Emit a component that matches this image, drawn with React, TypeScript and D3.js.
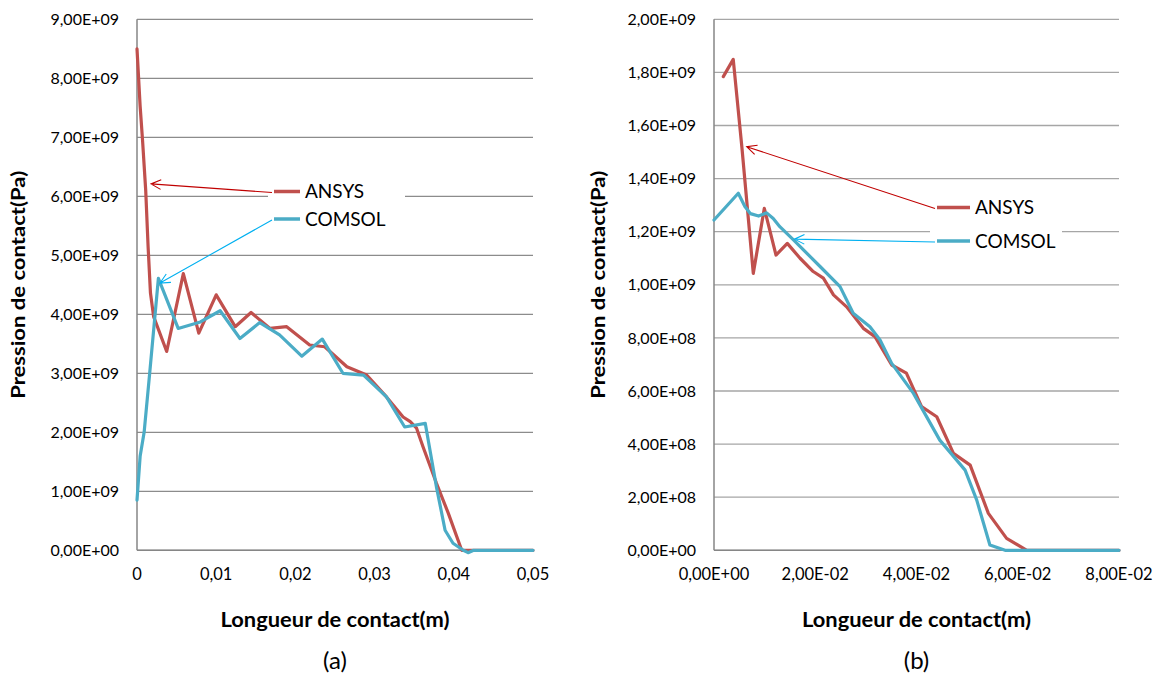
import React from "react";
import * as d3 from "d3";

// ---------- Data (x in m, y in Pa) ----------
const ansysA: [number, number][] = [
  [0, 8.5e9], [0.0004, 7.52e9], [0.0007, 6.95e9], [0.0011, 6.1e9], [0.0014, 5.15e9],
  [0.0017, 4.36e9], [0.0021, 3.96e9], [0.00375, 3.37e9], [0.00585, 4.69e9], [0.0078, 3.68e9], [0.01, 4.33e9],
  [0.0124, 3.79e9], [0.0144, 4.03e9], [0.0168, 3.76e9], [0.0189, 3.79e9], [0.0218, 3.48e9],
  [0.0237, 3.45e9], [0.0265, 3.11e9], [0.029, 2.97e9], [0.0315, 2.6e9], [0.0336, 2.26e9],
  [0.0345, 2.18e9], [0.0353, 2.07e9], [0.0361, 1.76e9], [0.0378, 1.14e9], [0.0393, 0.63e9],
  [0.041, 0], [0.05, 0],
];
const comsolA: [number, number][] = [
  [0, 0.85e9], [0.0004, 1.6e9], [0.0009, 2.0e9], [0.0016, 3.0e9], [0.0027, 4.61e9],
  [0.0052, 3.76e9], [0.008, 3.87e9], [0.0105, 4.06e9], [0.013, 3.59e9], [0.0155, 3.86e9],
  [0.018, 3.65e9], [0.0208, 3.29e9], [0.0234, 3.58e9], [0.026, 3.0e9], [0.0286, 2.97e9],
  [0.0315, 2.6e9], [0.0338, 2.09e9], [0.0364, 2.15e9], [0.0378, 1.08e9], [0.0389, 0.34e9],
  [0.0399, 0.12e9], [0.0412, 0], [0.0418, -0.04e9], [0.0425, 0], [0.05, 0],
];
const ansysB: [number, number][] = [
  [0.00184, 1.784e9], [0.0038, 1.849e9], [0.0055, 1.52e9], [0.00776, 1.043e9], [0.00994, 1.288e9],
  [0.01225, 1.112e9], [0.01448, 1.156e9], [0.017, 1.1e9], [0.0196, 1.05e9], [0.0216, 1.025e9],
  [0.0236, 0.962e9], [0.0262, 0.917e9], [0.0295, 0.836e9], [0.0318, 0.805e9], [0.0351, 0.698e9],
  [0.038, 0.667e9], [0.041, 0.541e9], [0.044, 0.503e9], [0.0473, 0.365e9], [0.0506, 0.321e9],
  [0.0542, 0.139e9], [0.0578, 0.045e9], [0.0618, 0], [0.08, 0],
];
const comsolB: [number, number][] = [
  [0, 1.244e9], [0.0048, 1.345e9], [0.0061, 1.295e9], [0.0072, 1.268e9], [0.0088, 1.259e9], [0.0104, 1.271e9],
  [0.0117, 1.25e9], [0.013, 1.219e9], [0.0157, 1.169e9], [0.019, 1.106e9], [0.021, 1.068e9], [0.0249, 0.993e9],
  [0.0275, 0.893e9], [0.0308, 0.842e9], [0.0328, 0.792e9], [0.0351, 0.704e9], [0.0394, 0.591e9],
  [0.0446, 0.415e9], [0.0496, 0.302e9], [0.0519, 0.189e9], [0.0545, 0.02e9], [0.0575, 0],
  [0.08, 0],
];

const xTicksA = [0, 0.01, 0.02, 0.03, 0.04, 0.05];
const yTicksA = [0, 1e9, 2e9, 3e9, 4e9, 5e9, 6e9, 7e9, 8e9, 9e9];
const xTicksB = [0, 0.02, 0.04, 0.06, 0.08];
const yTicksB = [0, 0.2e9, 0.4e9, 0.6e9, 0.8e9, 1.0e9, 1.2e9, 1.4e9, 1.6e9, 1.8e9, 2.0e9];

const seriesNames = ["ANSYS", "COMSOL"];
const yTitle = "Pression de contact(Pa)";
const xTitle = "Longueur de contact(m)";

// arrow tips in data coordinates
const arrowTipsA: [number, number][] = [[0.00177, 6.21e9], [0.0029, 4.53e9]];
const arrowTipsB: [number, number][] = [[0.00646, 1.52e9], [0.0159, 1.172e9]];

const RED = "#C0504D";
const BLUE = "#4BACC6";
const ARROW_RED = "#C00000";
const ARROW_BLUE = "#00B0F0";
const FONT = "Lato, 'Open Sans', sans-serif";

function fmtExp(v: number): string {
  if (v === 0) return "0,00E+00";
  const e = Math.floor(Math.log10(Math.abs(v)) + 1e-9);
  const m = v / Math.pow(10, e);
  const sign = e < 0 ? "-" : "+";
  const ea = Math.abs(e);
  return m.toFixed(2).replace(".", ",") + "E" + sign + (ea < 10 ? "0" : "") + ea;
}
function fmtDec(v: number): string {
  if (v === 0) return "0";
  return v.toFixed(2).replace(".", ",");
}

function arrowPath(sx: number, sy: number, tx: number, ty: number): string {
  const a = Math.atan2(sy - ty, sx - tx);
  const L = 11;
  const w = 0.45;
  const p1 = [tx + L * Math.cos(a + w), ty + L * Math.sin(a + w)];
  const p2 = [tx + L * Math.cos(a - w), ty + L * Math.sin(a - w)];
  return `M${sx},${sy}L${tx},${ty}M${p1[0]},${p1[1]}L${tx},${ty}L${p2[0]},${p2[1]}`;
}

type PanelProps = {
  x0: number; x1: number; y0: number; y1: number;
  xMax: number; yMax: number;
  xTicks: number[]; yTicks: number[];
  fmtX: (v: number) => string; fmtY: (v: number) => string;
  ansys: [number, number][]; comsol: [number, number][];
  gridColor: string;
  legendBox: [number, number, number, number];
  legendLineX: [number, number];
  legendY: [number, number];
  tips: [number, number][];
  yTitleX: number;
  label: string;
};

function Panel(p: PanelProps) {
  const x = d3.scaleLinear().domain([0, p.xMax]).range([p.x0, p.x1]);
  const y = d3.scaleLinear().domain([0, p.yMax]).range([p.y1, p.y0]);
  const line = d3.line<[number, number]>().x((d) => x(d[0])).y((d) => y(d[1]));
  const cx = (p.x0 + p.x1) / 2;
  const cy = (p.y0 + p.y1) / 2;
  const colors = [RED, BLUE];
  const arrowColors = [ARROW_RED, ARROW_BLUE];
  const paths = [line(p.ansys) || "", line(p.comsol) || ""];
  return (
    <g>
      {p.yTicks.map((t) => (
        <line key={"g" + t} x1={p.x0} x2={p.x1} y1={y(t)} y2={y(t)} stroke={p.gridColor} strokeWidth={1.3} />
      ))}
      <line x1={p.x0} x2={p.x0} y1={p.y0} y2={p.y1} stroke="#868686" strokeWidth={1.5} />
      <line x1={p.x0} x2={p.x1} y1={p.y1} y2={p.y1} stroke="#868686" strokeWidth={1.5} />
      {p.yTicks.map((t) => (
        <text key={"yt" + t} x={p.x0 - 18} y={y(t)} dy="0.35em" textAnchor="end" fontSize={16} fill="#000" fontFamily={FONT}>
          {p.fmtY(t)}
        </text>
      ))}
      {p.xTicks.map((t) => (
        <text key={"xt" + t} x={x(t)} y={p.y1 + 24} dy="0.35em" textAnchor="middle" fontSize={16.5} fill="#000" fontFamily={FONT}>
          {p.fmtX(t)}
        </text>
      ))}
      {paths.map((d, i) => (
        <path key={"s" + i} d={d} fill="none" stroke={colors[i]} strokeWidth={3.2} strokeLinejoin="round" strokeLinecap="round" />
      ))}
      <rect x={p.legendBox[0]} y={p.legendBox[1]} width={p.legendBox[2]} height={p.legendBox[3]} fill="#fff" />
      {seriesNames.map((n, i) => (
        <g key={"l" + n}>
          <line x1={p.legendLineX[0]} x2={p.legendLineX[1]} y1={p.legendY[i]} y2={p.legendY[i]} stroke={colors[i]} strokeWidth={3.5} />
          <text x={p.legendLineX[1] + 5} y={p.legendY[i]} dy="0.35em" fontSize={19} fontFamily={FONT} fill="#000">{n}</text>
        </g>
      ))}
      {p.tips.map((t, i) => (
        <path key={"a" + i} d={arrowPath(p.legendLineX[0] - 2, p.legendY[i] + 1, x(t[0]), y(t[1]))} fill="none" stroke={arrowColors[i]} strokeWidth={1.1} />
      ))}
      <text transform={`translate(${p.yTitleX},${cy}) rotate(-90)`} textAnchor="middle" dy="0.35em" fontSize={19.5} fontWeight="bold" fontFamily={FONT} fill="#000" textLength={228} lengthAdjust="spacingAndGlyphs">
        {yTitle}
      </text>
      <text x={cx} y={p.y1 + 70} textAnchor="middle" dy="0.35em" fontSize={20} fontWeight="bold" fontFamily={FONT} fill="#000" textLength={229} lengthAdjust="spacingAndGlyphs">
        {xTitle}
      </text>
      <text x={cx} y={p.y1 + 110} textAnchor="middle" dy="0.35em" fontSize={24} fontFamily={FONT} fill="#000">
        {p.label}
      </text>
    </g>
  );
}

export default function App() {
  return (
    <svg width={1160} height={674} style={{ position: "absolute", left: 0, top: 0, background: "#fff" }}>
      <rect width={1160} height={674} fill="#fff" />
      <Panel
        x0={137} x1={533} y0={19.3} y1={550.3}
        xMax={0.05} yMax={9e9}
        xTicks={xTicksA} yTicks={yTicksA}
        fmtX={fmtDec} fmtY={fmtExp}
        ansys={ansysA} comsol={comsolA}
        gridColor="#8c8c8c"
        legendBox={[268, 176, 137, 58]}
        legendLineX={[274, 300]}
        legendY={[191.5, 219]}
        tips={arrowTipsA}
        yTitleX={18}
        label="(a)"
      />
      <Panel
        x0={714} x1={1119} y0={19.3} y1={550.3}
        xMax={0.08} yMax={2e9}
        xTicks={xTicksB} yTicks={yTicksB}
        fmtX={fmtExp} fmtY={fmtExp}
        ansys={ansysB} comsol={comsolB}
        gridColor="#a6a6a6"
        legendBox={[930, 190, 132, 66]}
        legendLineX={[937, 970]}
        legendY={[207.5, 241]}
        tips={arrowTipsB}
        yTitleX={598}
        label="(b)"
      />
    </svg>
  );
}
